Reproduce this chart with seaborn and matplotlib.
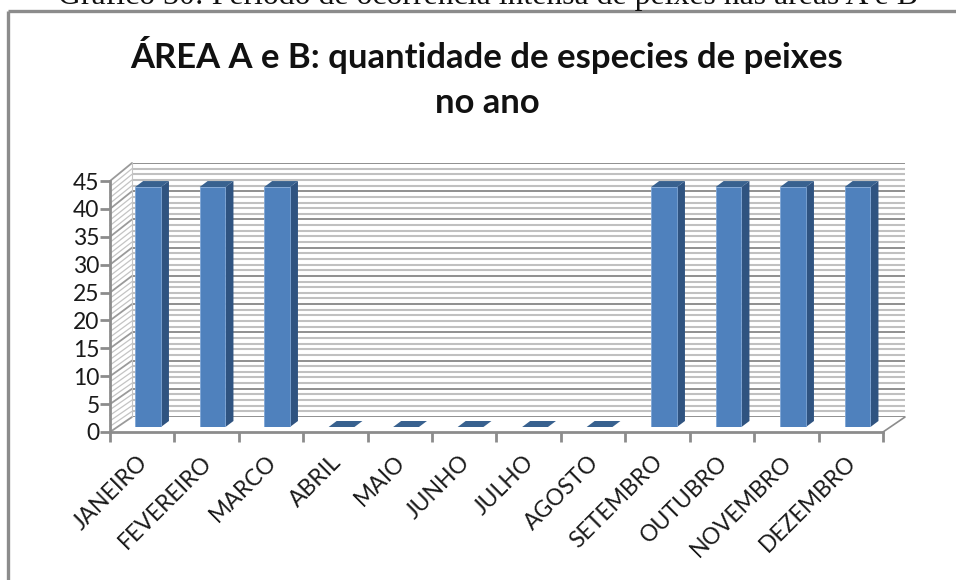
import matplotlib
matplotlib.use("Agg")
import matplotlib.pyplot as plt
import numpy as np
import pandas as pd
import seaborn as sns
from matplotlib.patches import Polygon
from matplotlib.ticker import MultipleLocator

meses = ["JANEIRO", "FEVEREIRO", "MARCO", "ABRIL", "MAIO", "JUNHO", "JULHO",
         "AGOSTO", "SETEMBRO", "OUTUBRO", "NOVEMBRO", "DEZEMBRO"]
especies = [43, 43, 43, 0, 0, 0, 0, 0, 43, 43, 43, 43]
y_ticks = [0, 5, 10, 15, 20, 25, 30, 35, 40, 45]

titulo = "ÁREA A e B: quantidade de especies de peixes\nno ano"
legenda = "Gráfico 30: Período de ocorrência intensa de peixes nas áreas A e B"

W, H = 956, 580
GREY = "#8c8c8c"


def px_axes(fig, left, right, top, bottom, **kw):
    # axes placed by pixel box, y counted from the top like in the picture
    return fig.add_axes([left / W, 1 - bottom / H, (right - left) / W, (bottom - top) / H], **kw)


sns.set_theme(style="white")
plt.rcParams["font.family"] = ["Lato", "DejaVu Sans"]

fig = plt.figure(figsize=(W / 100, H / 100), dpi=100, facecolor="white")

# page layer: frame, caption, chart title, side wall, floor
page = px_axes(fig, 0, W, 0, H)
page.set_xlim(0, W)
page.set_ylim(H, 0)
page.set_axis_off()
page.plot([8, 8], [H, 11], color=GREY, lw=2.4, solid_capstyle="butt")
page.plot([8, W], [11, 11], color=GREY, lw=2.4, solid_capstyle="butt")
page.text(488, 4, legenda, ha="center", va="baseline", fontsize=22.9,
          family="Liberation Serif", color="#111111", clip_on=False)
page.text(487, 55, titulo.split("\n")[0], ha="center", va="center", fontsize=24.9,
          fontweight="bold", color="#111111")
page.text(487, 103, titulo.split("\n")[1], ha="center", va="center", fontsize=24.9,
          fontweight="bold", color="#111111")

# side wall stripes, front edge to back wall
front_y = np.linspace(432, 181, 46)
back_y = np.linspace(417, 163, 46)
for i, (fy, by) in enumerate(zip(front_y, back_y)):
    major = i % 5 == 0
    page.plot([110, 132], [fy, by], color="#9a9a9a" if major else "#c4c4c4",
              lw=1.3 if major else 0.9, zorder=1)
page.plot([132, 132], [163, 417], color="#c4c4c4", lw=0.8, zorder=1)
page.plot([883, 905], [432, 417], color=GREY, lw=1.2, zorder=1)

# back wall with its grid
wall = px_axes(fig, 132, 905, 163, 417)
wall.patch.set_alpha(0)
wall.set_ylim(0, 45)
wall.set_xticks([])
wall.yaxis.set_major_locator(MultipleLocator(5))
wall.yaxis.set_minor_locator(MultipleLocator(1))
wall.grid(axis="y", which="major", color="#8f8f8f", lw=1.4)
wall.grid(axis="y", which="minor", color="#c0c0c0", lw=1.5)
wall.tick_params(left=False, labelleft=False, which="both")
sns.despine(ax=wall, left=True, right=True, bottom=True, top=True)

# front axis: only ticks and labels
front = px_axes(fig, 110, 883, 181, 432)
front.patch.set_alpha(0)
front.set_xlim(-0.5, len(meses) - 0.5)
front.set_ylim(0, 45)
front.set_yticks(y_ticks)
front.set_xticks(np.arange(len(meses) + 1) - 0.5)
front.set_xticklabels([])
front.set_xticks(np.arange(len(meses)) - 0.08, labels=meses, minor=True)
front.tick_params(axis="x", which="major", length=7, width=2, color=GREY, bottom=True)
front.tick_params(axis="x", which="minor", length=0, pad=14, labelsize=16.5,
                  labelcolor="#1a1a1a")
front.tick_params(axis="y", length=7, width=2, color=GREY, left=True, labelsize=16.5,
                  labelcolor="#1a1a1a", pad=0.5)
plt.setp(front.get_xticklabels(minor=True), rotation=45, ha="right", rotation_mode="anchor")
for side in ["top", "right"]:
    front.spines[side].set_visible(False)
for side in ["left", "bottom"]:
    front.spines[side].set_color(GREY)
    front.spines[side].set_linewidth(2)

# bars, on a plane slightly behind the front axis
df = pd.DataFrame({"mes": meses, "especies": especies})
ax = px_axes(fig, 115.8, 889.8, 175.9, 427)
ax.patch.set_alpha(0)
sns.barplot(data=df, x="mes", y="especies", color="#4f81bd", saturation=1, width=0.4,
            ax=ax, edgecolor="#7fa6d6", linewidth=0.6, zorder=3)
ax.set_xlim(-0.5, len(meses) - 0.5)
ax.set_ylim(0, 45)
ax.set_axis_off()

# depth faces come from the bars seaborn drew
depth_x, depth_y = 8, 6
to_px = ax.transData + page.transData.inverted()
for bar in ax.patches:
    x0, y0 = bar.get_x(), bar.get_y()
    x1, y1 = x0 + bar.get_width(), y0 + bar.get_height()
    (ax0, ay0), (ax1, ay1) = to_px.transform([(x0, y0), (x1, y1)])
    if bar.get_height() > 0:
        page.add_patch(Polygon([(ax1, ay0), (ax1 + depth_x, ay0 - depth_y),
                                (ax1 + depth_x, ay1 - depth_y), (ax1, ay1)],
                               facecolor="#2f5380", edgecolor="none", zorder=2))
    page.add_patch(Polygon([(ax0, ay1), (ax1, ay1), (ax1 + depth_x, ay1 - depth_y),
                            (ax0 + depth_x, ay1 - depth_y)],
                           facecolor="#38618f", edgecolor="none", zorder=2))

# page has to sit over the wall for the depth faces
page.set_zorder(2)
page.patch.set_alpha(0)
wall.set_zorder(1)
front.set_zorder(3)
ax.set_zorder(4)

fig.savefig("out.png", dpi=100)
plt.close(fig)
